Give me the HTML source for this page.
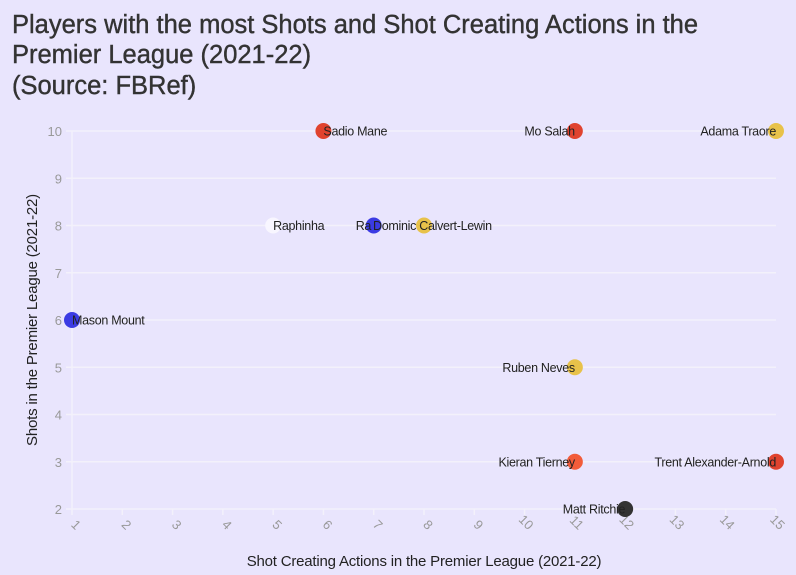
<!DOCTYPE html>
<html><head><meta charset="utf-8"><style>
body{margin:0;background:#e9e5fd;}
svg{display:block;font-family:"Liberation Sans",sans-serif;}
</style></head><body>
<svg id="chart" width="796" height="575">
<rect width="796" height="575" fill="#e9e5fd"/>
<text x="12" y="33" font-size="25.5" fill="#333" stroke="#333" stroke-width="0.4">Players with the most Shots and Shot Creating Actions in the</text>
<text x="12" y="63" font-size="25.5" fill="#333" stroke="#333" stroke-width="0.4">Premier League (2021-22)</text>
<text x="12" y="94" font-size="25.5" fill="#333" stroke="#333" stroke-width="0.4">(Source: FBRef)</text>
<g id="grid"></g><g id="ticks"></g><g id="marks"></g>
<text x="424" y="566" font-size="15" fill="#222" text-anchor="middle" letter-spacing="-0.2">Shot Creating Actions in the Premier League (2021-22)</text>
<text transform="translate(37,320) rotate(-90)" font-size="15" fill="#222" text-anchor="middle" letter-spacing="-0.2">Shots in the Premier League (2021-22)</text>
</svg>
<script>
const players=["Sadio Mane","Mo Salah","Adama Traore","Raphinha","Ra","Dominic Calvert-Lewin","Mason Mount","Ruben Neves","Kieran Tierney","Trent Alexander-Arnold","Matt Ritchie"];
const sca=[6,11,15,5,7,8,1,11,11,15,12];
const shots=[10,10,10,8,8,8,6,5,3,3,2];
const colors=["#e0432f","#e0432f","#e8c24a","#f8f6ff","#3b3be3","#e8c24a","#3b3be3","#e8c24a","#f25c3a","#e0432f","#333333"];
const anchors=["start","end","end","start","start","start","start","end","end","end","end"];
const xTicks=[1,2,3,4,5,6,7,8,9,10,11,12,13,14,15];
const yTicks=[2,3,4,5,6,7,8,9,10];
const X=v=>72+(v-1)*(776-72)/14;
const Y=v=>509-(v-2)*(509-131)/8;
const NS="http://www.w3.org/2000/svg";
const g=document.getElementById('grid'),t=document.getElementById('ticks'),m=document.getElementById('marks');
function mk(tag,attrs,parent){const e=document.createElementNS(NS,tag);for(const k in attrs)e.setAttribute(k,attrs[k]);parent.appendChild(e);return e;}
yTicks.forEach(v=>{
 const l=mk('line',{x1:66,x2:776,y1:Y(v),y2:Y(v),stroke:'#f3f1fb','stroke-width':1.5},g);
 
 
 const tx=mk('text',{x:62,y:Y(v)+5,'font-size':13,fill:'#999','text-anchor':'end'},t);
 tx.textContent=v;
 
 
});
const ax=mk('line',{x1:72,x2:72,y1:131,y2:509,stroke:'#f3f1fb','stroke-width':1.5},g);


xTicks.forEach(v=>{
 const l=mk('line',{x1:X(v),x2:X(v),y1:509,y2:515,stroke:'#f3f1fb','stroke-width':1.5},g);
 
 
 const tx=mk('text',{x:X(v)+5,y:527,'font-size':13,fill:'#999','text-anchor':'end',transform:`rotate(45 ${X(v)} 527)`},t);
 tx.textContent=v;
 
 
});
players.forEach((p,i)=>{
 const c=mk('circle',{cx:X(sca[i]),cy:Y(shots[i]),r:8,fill:colors[i]},m);
 
 
});
players.forEach((p,i)=>{
 let x=X(sca[i]);
 if(p==="Ra")x-=18;
 if(p==="Dominic Calvert-Lewin")x-=51;
 const tx=mk('text',{x:x,y:Y(shots[i])+4.5,'font-size':12.5,fill:'#222','text-anchor':anchors[i],'letter-spacing':-0.3},m);
 tx.textContent=p;
 
 
});
</script>
</body></html>
